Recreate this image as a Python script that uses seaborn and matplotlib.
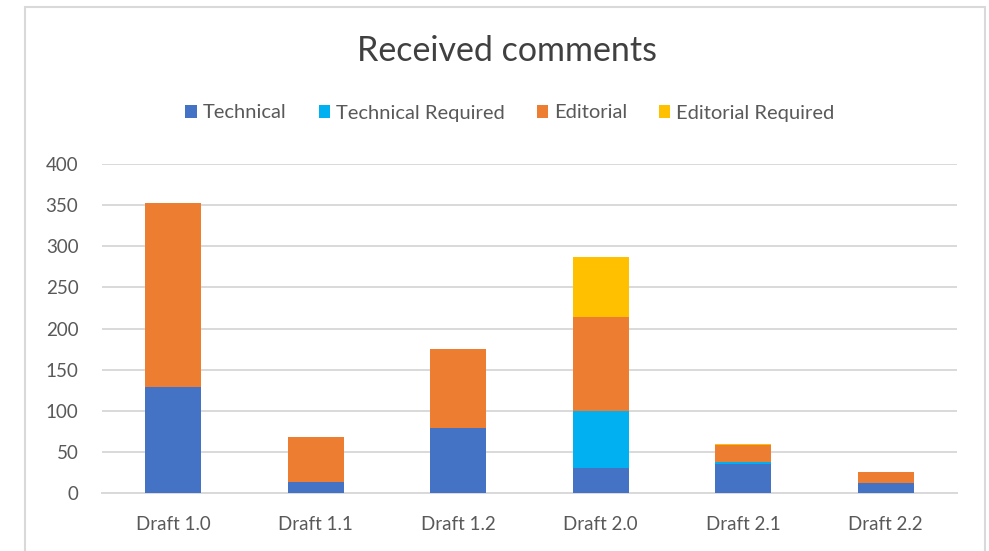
import matplotlib
matplotlib.use("Agg")
import matplotlib.pyplot as plt
import seaborn as sns
import pandas as pd
import numpy as np
from matplotlib.patches import Patch, Rectangle

drafts = ["Draft 1.0", "Draft 1.1", "Draft 1.2", "Draft 2.0", "Draft 2.1", "Draft 2.2"]
technical = [129, 13, 79, 30, 35, 12]
technical_required = [0, 0, 0, 70, 3, 0]
editorial = [224, 55, 96, 114, 20, 14]
editorial_required = [0, 0, 0, 73, 2, 0]

series_names = ["Technical", "Technical Required", "Editorial", "Editorial Required"]
series_values = [technical, technical_required, editorial, editorial_required]
colors = ["#4472C4", "#00B0F0", "#ED7D31", "#FFC000"]

sns.set_theme(style="white")
plt.rcParams["font.family"] = ["Lato", "DejaVu Sans"]

fig = plt.figure(figsize=(9.89, 5.51), dpi=100)
ax = fig.add_axes([102/989, 1-493/551, 855/989, 329/551])

# cumulative stacks, drawn from top to bottom
cum = np.cumsum(np.array(series_values), axis=0)
for i in range(len(series_names) - 1, -1, -1):
    df = pd.DataFrame({"draft": drafts, "value": cum[i]})
    sns.barplot(data=df, x="draft", y="value", color=colors[i], width=0.39,
                saturation=1, ax=ax, zorder=3, linewidth=0)

ax.set_ylim(0, 400)
ax.set_xlim(-0.5, 5.5)
ax.set_yticks(range(0, 401, 50))
ax.yaxis.grid(True, color="#D9D9D9", linewidth=1.4, zorder=0)
ax.set_axisbelow(True)
for s in ["top", "right", "left"]:
    ax.spines[s].set_visible(False)
ax.spines["bottom"].set_color("#D9D9D9")
ax.spines["bottom"].set_linewidth(1.4)
ax.set_xlabel("")
ax.set_ylabel("")
ax.tick_params(axis="both", length=0, labelsize=13.5, labelcolor="#595959")
ax.tick_params(axis="y", pad=17)
ax.tick_params(axis="x", pad=16.5)

fig.text(507/989, 1-51/551, "Received comments", ha="center", va="center",
         fontsize=24.5, color="#404040")

handles = [Patch(facecolor=c, edgecolor="none") for c in colors]
fig.legend(handles, series_names, loc="center", bbox_to_anchor=(510/989, 1-113/551),
           ncol=4, frameon=False, fontsize=14.5, handlelength=0.55, handleheight=0.6,
           handletextpad=0.3, columnspacing=1.6, labelcolor="#595959")

fig.patches.append(Rectangle((25/989, -0.05), 960/989, 1.05-7/551, transform=fig.transFigure,
                             fill=False, edgecolor="#D9D9D9", linewidth=1.5))

fig.savefig("out.png", dpi=100, facecolor="white")
